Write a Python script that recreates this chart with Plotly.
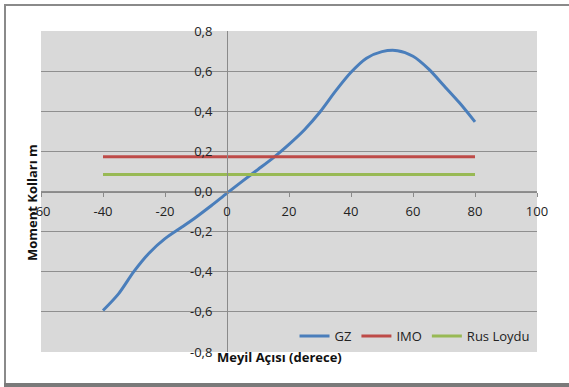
import plotly.graph_objects as go

# ---- data ----
angles = [-40, -35, -30, -25, -20, -15, -10, -5, 0, 5, 10, 15, 20, 25, 30, 35, 40, 45, 50, 55, 60, 65, 70, 75, 80]
gz = [-0.593, -0.510, -0.398, -0.305, -0.235, -0.182, -0.128, -0.070, -0.008, 0.052, 0.110, 0.169, 0.235,
      0.308, 0.396, 0.500, 0.594, 0.664, 0.697, 0.702, 0.674, 0.611, 0.527, 0.442, 0.347]
limit_x = [-40, 80]
imo = [0.173, 0.173]
rus_loydu = [0.085, 0.085]
x_ticks = [-60, -40, -20, 0, 20, 40, 60, 80, 100]
x_tick_labels = ["-60", "-40", "-20", "0", "20", "40", "60", "80", "100"]
y_ticks = [-0.8, -0.6, -0.4, -0.2, 0.0, 0.2, 0.4, 0.6, 0.8]
y_tick_labels = ["-0,8", "-0,6", "-0,4", "-0,2", "0,0", "0,2", "0,4", "0,6", "0,8"]

W, H = 569, 387
L, R, T, B = 41, 32, 31, 35
pw, ph = W - L - R, H - T - B

def px(x):
    return (x - L) / pw

def py(y):
    return (H - B - y) / ph

FONT = "Open Sans"

fig = go.Figure()
fig.add_trace(go.Scatter(x=angles, y=gz, mode="lines", name="GZ",
                         line=dict(color="#4a7ebb", width=3, shape="spline", smoothing=0.8)))
fig.add_trace(go.Scatter(x=limit_x, y=imo, mode="lines", name="IMO",
                         line=dict(color="#be4b48", width=3)))
fig.add_trace(go.Scatter(x=limit_x, y=rus_loydu, mode="lines", name="Rus Loydu",
                         line=dict(color="#98b954", width=3)))

fig.update_layout(
    width=W, height=H,
    margin=dict(l=L, r=R, t=T, b=B),
    paper_bgcolor="white",
    plot_bgcolor="#d9d9d9",
    font=dict(family=FONT, size=13, color="#222222"),
    showlegend=True,
    legend=dict(orientation="h", x=0.995, xanchor="right", y=0.05, yanchor="middle",
                bgcolor="rgba(0,0,0,0)", font=dict(size=13, color="#222222"),
                itemwidth=30, tracegroupgap=0),
    xaxis=dict(range=[-60, 100], tickvals=x_ticks, ticktext=x_tick_labels,
               showgrid=False, zeroline=False,
               showline=True, linecolor="#8a8a8a", linewidth=1,
               anchor="free", position=0.5, ticks="outside", ticklen=4, tickcolor="#8a8a8a",
               ticklabelstandoff=4, tickfont=dict(size=13)),
    yaxis=dict(range=[-0.8, 0.8], tickvals=y_ticks, ticktext=y_tick_labels,
               showgrid=True, gridcolor="#8f8f8f", gridwidth=1, zeroline=False,
               showline=True, linecolor="#8a8a8a", linewidth=1,
               anchor="free", position=0.375, ticks="", ticklabelstandoff=12,
               tickfont=dict(size=13)),
    annotations=[
        dict(text="<b>Moment Kolları m</b>", x=px(21), y=py(203), xref="paper", yref="paper",
             textangle=-90, showarrow=False, font=dict(size=13, color="#111111")),
        dict(text="<b>Meyil Açısı (derece)</b>", x=px(279), y=py(368), xref="paper", yref="paper",
             showarrow=False, font=dict(size=13, color="#111111")),
    ],
    shapes=[
        dict(type="line", xref="paper", yref="paper", x0=px(4), x1=px(569), y0=py(5), y1=py(5),
             line=dict(color="#8a8a8a", width=2)),
        dict(type="line", xref="paper", yref="paper", x0=px(5), x1=px(5), y0=py(4), y1=py(384),
             line=dict(color="#8a8a8a", width=2)),
        dict(type="line", xref="paper", yref="paper", x0=px(4), x1=px(569), y0=py(385), y1=py(385),
             line=dict(color="#7a7a7a", width=4)),
    ],
)

fig.write_html("out.html")
